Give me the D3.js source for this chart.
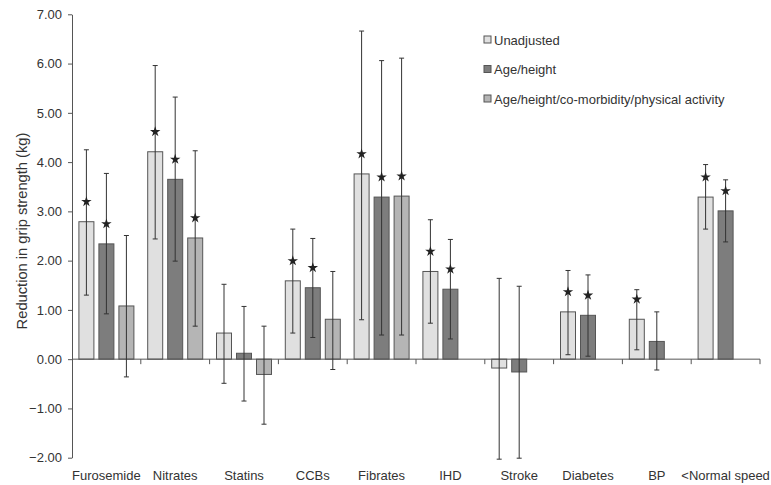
<!DOCTYPE html>
<html><head><meta charset="utf-8">
<script src="https://cdn.jsdelivr.net/npm/d3@7"></script>
<style>body{margin:0;background:#fff}svg{display:block;font-family:"Liberation Sans",Arial,sans-serif}</style>
</head><body><svg id="c" width="771" height="485"></svg>
<script>
const categories = ["Furosemide","Nitrates","Statins","CCBs","Fibrates","IHD","Stroke","Diabetes","BP","<Normal speed"];
const seriesNames = ["Unadjusted","Age/height","Age/height/co-morbidity/physical activity"];
const unadjusted      = [2.79, 4.21, 0.53, 1.59, 3.76, 1.78, -0.18, 0.96, 0.81, 3.29];
const unadjustedLow   = [1.30, 2.44, -0.49, 0.53, 0.80, 0.73, -2.03, 0.09, 0.19, 2.64];
const unadjustedHigh  = [4.25, 5.96, 1.52, 2.64, 6.66, 2.83, 1.64, 1.80, 1.41, 3.95];
const unadjustedStar  = [1, 1, 0, 1, 1, 1, 0, 1, 1, 1];
const ageHeight       = [2.34, 3.65, 0.12, 1.45, 3.29, 1.42, -0.26, 0.89, 0.36, 3.01];
const ageHeightLow    = [0.92, 1.99, -0.85, 0.44, 0.49, 0.41, -2.01, 0.06, -0.22, 2.38];
const ageHeightHigh   = [3.77, 5.32, 1.07, 2.45, 6.06, 2.43, 1.48, 1.71, 0.96, 3.64];
const ageHeightStar   = [1, 1, 0, 1, 1, 1, 0, 1, 0, 1];
const fullAdj         = [1.08, 2.46, -0.31, 0.81, 3.31, null, null, null, null, null];
const fullAdjLow      = [-0.36, 0.67, -1.32, -0.21, 0.49, null, null, null, null, null];
const fullAdjHigh     = [2.51, 4.23, 0.67, 1.78, 6.11, null, null, null, null, null];
const fullAdjStar     = [0, 1, 0, 0, 1, 0, 0, 0, 0, 0];
const yTicks = [-2, -1, 0, 1, 2, 3, 4, 5, 6, 7];
const colors = ["#e0e0e0", "#7d7d7d", "#b5b5b5"];

const series = [
  {name: seriesNames[0], v: unadjusted, lo: unadjustedLow, hi: unadjustedHigh, star: unadjustedStar},
  {name: seriesNames[1], v: ageHeight, lo: ageHeightLow, hi: ageHeightHigh, star: ageHeightStar},
  {name: seriesNames[2], v: fullAdj, lo: fullAdjLow, hi: fullAdjHigh, star: fullAdjStar}
];

const svg = d3.select("#c");
const axisColor = "#555";
const x = d3.scaleBand().domain(categories).range([72, 760]).paddingInner(0).paddingOuter(0);
const xs = d3.scaleBand().domain([0,1,2]).range([0, x.bandwidth()]).paddingInner(0.25).paddingOuter(0.345);
const y = d3.scaleLinear().domain([-2, 7]).range([457.7, 14.3]);

// y axis
const yAxis = svg.append("g").attr("transform","translate(72,0)")
  .call(d3.axisLeft(y).tickValues(yTicks).tickFormat(d3.format(".2f")).tickSize(4).tickSizeOuter(0));
yAxis.select(".domain").attr("stroke", axisColor);
yAxis.selectAll(".tick line").attr("stroke", axisColor);
yAxis.selectAll(".tick text").attr("font-size", 13).attr("fill", "#333").attr("x", -10)
  .attr("font-family", "Liberation Sans, Arial, sans-serif");

// bars
series.forEach((s, si) => {
  const g = svg.append("g");
  categories.forEach((c, ci) => {
    const v = s.v[ci];
    if (v == null) return;
    const x0 = x(c) + xs(si);
    const w = xs.bandwidth();
    g.append("rect").attr("x", x0).attr("y", y(Math.max(0, v)))
      .attr("width", w).attr("height", Math.abs(y(v) - y(0)))
      .attr("fill", colors[si]).attr("stroke", "#555").attr("stroke-width", 1);
  });
});

// x axis (zero line) with boundary ticks
svg.append("line").attr("x1", 72).attr("x2", 760).attr("y1", y(0)).attr("y2", y(0))
  .attr("stroke", axisColor).attr("stroke-width", 1);
const bounds = categories.map(c => x(c) + x.bandwidth());
svg.selectAll(".xt").data(bounds).join("line")
  .attr("x1", d => d).attr("x2", d => d).attr("y1", y(0)).attr("y2", y(0) + 5)
  .attr("stroke", axisColor);

// error bars and stars
series.forEach((s, si) => {
  categories.forEach((c, ci) => {
    const v = s.v[ci];
    if (v == null) return;
    const cx = x(c) + xs(si) + xs.bandwidth() / 2;
    const g = svg.append("g").attr("stroke", "#333").attr("stroke-width", 1);
    g.append("line").attr("x1", cx).attr("x2", cx).attr("y1", y(s.lo[ci])).attr("y2", y(s.hi[ci]));
    [s.lo[ci], s.hi[ci]].forEach(e => {
      g.append("line").attr("x1", cx - 2.5).attr("x2", cx + 2.5).attr("y1", y(e)).attr("y2", y(e));
    });
    if (s.star[ci]) {
      svg.append("path").attr("d", d3.symbol(d3.symbolStar, 34)())
        .attr("transform", `translate(${cx},${y(Math.max(0, v)) - 20})`).attr("fill", "#222");
    }
  });
});

// x labels
svg.selectAll(".xl").data(categories).join("text")
  .attr("x", d => x(d) + x.bandwidth() / 2).attr("y", 480)
  .attr("text-anchor", "middle").attr("font-size", 13).attr("fill", "#333").text(d => d);

// y label
svg.append("text").attr("transform", "translate(27,231) rotate(-90)")
  .attr("text-anchor", "middle").attr("font-size", 14.7).attr("fill", "#333")
  .text("Reduction in grip strength (kg)");

// legend
const leg = svg.append("g");
series.forEach((s, i) => {
  const yy = 40 + i * 29.5;
  leg.append("rect").attr("x", 484).attr("y", yy - 4).attr("width", 7).attr("height", 7)
    .attr("fill", colors[i]).attr("stroke", "#555");
  leg.append("text").attr("x", 494).attr("y", yy + 4.5).attr("font-size", 13).attr("fill", "#333").text(s.name);
});
</script></body></html>
